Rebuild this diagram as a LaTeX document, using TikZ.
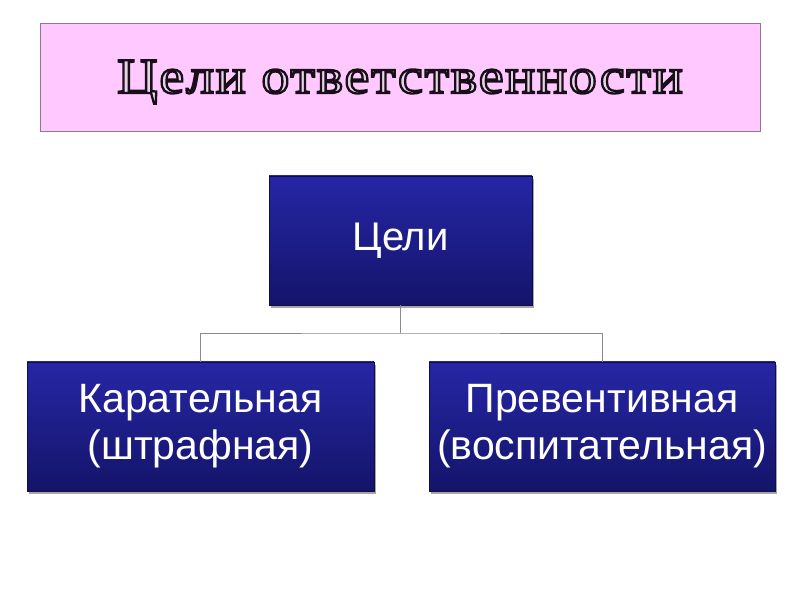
\documentclass[tikz,border=0pt]{standalone}
\usepackage{fontspec}
\setmainfont{Liberation Serif}
\setsansfont{Liberation Sans}
\newfontfamily\titlefont[LetterSpace=3.5,FakeStretch=1.12]{Liberation Serif}
\usetikzlibrary{shadows,positioning}
\definecolor{titlefill}{HTML}{FFC8FF}
\definecolor{titleedge}{HTML}{8C7A8C}
\definecolor{titlecore}{HTML}{E8D4E8}
\definecolor{bluetop}{HTML}{2626A6}
\definecolor{bluebot}{HTML}{14146A}
\definecolor{linkgray}{HTML}{8A8A8A}
\newcommand{\outlinetext}[1]{\special{pdf:literal direct 0.1 0.06 0.1 RG 2.3 w 2 Tr}#1\special{pdf:literal direct 0 Tr}}
\tikzset{
  titlebox/.style={draw=titleedge, line width=0.8pt, fill=titlefill, minimum width=720pt, minimum height=108pt, inner sep=0pt},
  titletextstyle/.style={inner sep=0pt, text=titlecore, font=\titlefont\fontsize{50}{56}\selectfont},
  bluebox/.style={draw=bluebot!70!black, line width=0.6pt, top color=bluetop, bottom color=bluebot,
    text=white, font=\sffamily\fontsize{41}{47}\selectfont, align=center, inner sep=0pt,
    drop shadow={shadow xshift=2pt, shadow yshift=-3pt, opacity=0.35, fill=black}},
  link/.style={draw=linkgray, line width=0.8pt}
}
\begin{document}
\begin{tikzpicture}[x=1pt,y=1pt]
\useasboundingbox (0,0) rectangle (800,600);
\node[titlebox] (title) at (400,523) {};
\node[titletextstyle] (titletext) at ([yshift=-5pt]title.center) {\outlinetext{Цели ответственности}};
\node[bluebox, minimum width=263pt, minimum height=129pt, font=\sffamily\fontsize{40}{46}\selectfont] (root) at (400.5,359.5) {Цели};
\node[bluebox, minimum width=347pt, minimum height=129pt] (left) at (200.5,173.5) {Карательная\\(штрафная)};
\node[bluebox, minimum width=346pt, minimum height=129pt] (right) at (602,173.5) {Превентивная\\(воспитательная)};
\coordinate (mid) at (400.5,267);
\draw[link] (root.south) -- (mid);
\draw[link] (left.north) |- (mid) -| (right.north);
\end{tikzpicture}
\end{document}
